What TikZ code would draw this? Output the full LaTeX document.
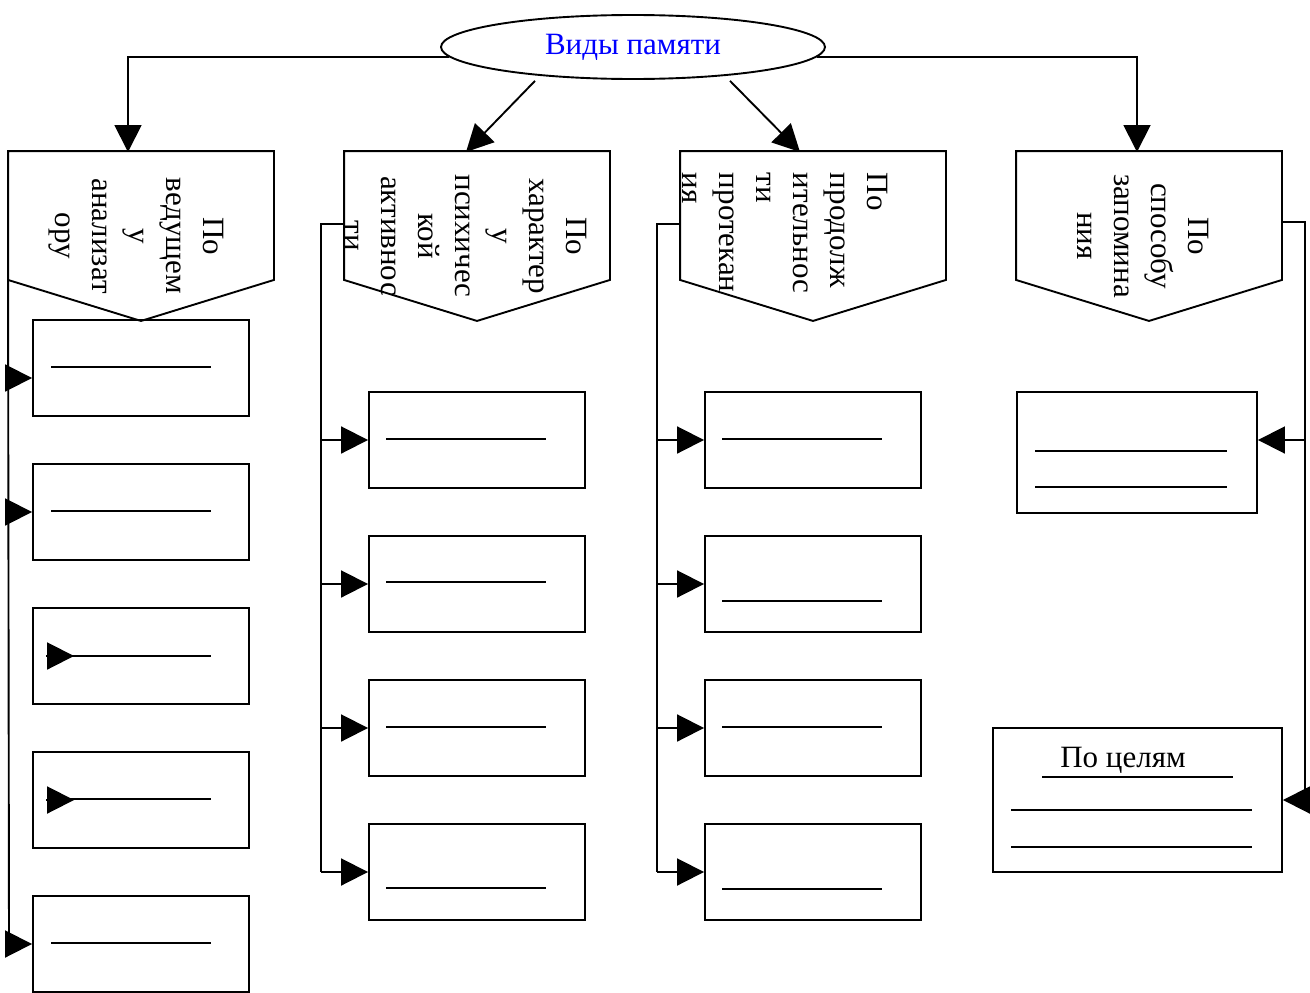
\documentclass[tikz,border=0pt]{standalone}
\usepackage{fontspec}
\setmainfont{Liberation Serif}
\usetikzlibrary{shapes.geometric,arrows.meta}

\begin{document}
\begin{tikzpicture}[x=1pt,y=-1pt,line width=1.9pt,
    arr/.style={-{Triangle[length=27pt,width=27pt]}},
    blank/.style={line width=1.3pt},
    every node/.style={font=\fontsize{31}{37}\selectfont}]

      \useasboundingbox (0,0) rectangle (1310,993);

      \node[ellipse,draw,minimum width=384pt,minimum height=64pt,inner sep=0pt,text=blue] (vidy) at (633,47) {Виды памяти};

      \begin{scope}[every node/.style={minimum width=264pt,minimum height=127pt,inner sep=0pt}]
        \node (k1) at (141,215.5) {};
        \node (k2) at (477,215.5) {};
        \node (k3) at (813,215.5) {};
        \node (k4) at (1149,215.5) {};
      \end{scope}

      \draw (k1.north west) -- (k1.north east) -- (k1.south east) -- ([yshift=-41pt]k1.south) -- (k1.south west) -- cycle;
      \draw (k2.north west) -- (k2.north east) -- (k2.south east) -- ([yshift=-41pt]k2.south) -- (k2.south west) -- cycle;
      \draw (k3.north west) -- (k3.north east) -- (k3.south east) -- ([yshift=-41pt]k3.south) -- (k3.south west) -- cycle;
      \draw (k4.north west) -- (k4.north east) -- (k4.south east) -- ([yshift=-41pt]k4.south) -- (k4.south west) -- cycle;

      \node[rotate=-90,align=center] (t1) at (136,236) {По\\ведущем\\у\\анализат\\ору};
      \node[rotate=-90,align=center] (t2) at (466,236) {По\\характер\\у\\психичес\\кой\\активнос\\ти};
      \node[rotate=-90,align=left] (t3) at (785,233) {По\\продолж\\ительнос\\ти\\протекан\\ия};
      \node[rotate=-90,align=center] (t4) at (1143,236) {По\\способу\\запомина\\ния};

      \begin{scope}[every node/.style={draw,minimum width=216pt,minimum height=96pt,inner sep=0pt}]
        \node (b11) at (141,368) {};
        \node (b12) at (141,512) {};
        \node (b13) at (141,656) {};
        \node (b14) at (141,800) {};
        \node (b15) at (141,944) {};
        \node (b21) at (477,440) {};
        \node (b22) at (477,584) {};
        \node (b23) at (477,728) {};
        \node (b24) at (477,872) {};
        \node (b31) at (813,440) {};
        \node (b32) at (813,584) {};
        \node (b33) at (813,728) {};
        \node (b34) at (813,872) {};
      \end{scope}
      \node[draw,minimum width=240pt,minimum height=121pt,inner sep=0pt] (b41) at (1137,452.5) {};
      \node[draw,minimum width=289pt,minimum height=144pt,inner sep=0pt] (b42) at (1137.5,800) {};
      \node[anchor=base] (cel) at (1123,767) {По целям};

      % blank lines
      \draw[blank] ([shift={(19,-1)}]b11.west) -- ++(160,0);
      \draw[blank] ([shift={(19,-1)}]b12.west) -- ++(160,0);
      \draw[blank] ([shift={(19,0)}]b13.west) -- ++(160,0);
      \draw[blank] ([shift={(19,-1)}]b14.west) -- ++(160,0);
      \draw[blank] ([shift={(19,-1)}]b15.west) -- ++(160,0);
      \draw[blank] ([shift={(18,-1)}]b21.west) -- ++(160,0);
      \draw[blank] ([shift={(18,-2)}]b22.west) -- ++(160,0);
      \draw[blank] ([shift={(18,-1)}]b23.west) -- ++(160,0);
      \draw[blank] ([shift={(18,16)}]b24.west) -- ++(160,0);
      \draw[blank] ([shift={(18,-1)}]b31.west) -- ++(160,0);
      \draw[blank] ([shift={(18,17)}]b32.west) -- ++(160,0);
      \draw[blank] ([shift={(18,-1)}]b33.west) -- ++(160,0);
      \draw[blank] ([shift={(18,17)}]b34.west) -- ++(160,0);
      \draw[blank] ([shift={(19,-1.5)}]b41.west) -- ++(192,0);
      \draw[blank] ([shift={(19,34.5)}]b41.west) -- ++(192,0);
      \draw[blank] (1042,777) -- (1233,777);
      \draw[blank] ([shift={(19,10)}]b42.west) -- ++(241,0);
      \draw[blank] ([shift={(19,47)}]b42.west) -- ++(241,0);

      \draw[arr] ([xshift=14pt]b13.west) -- ([xshift=42pt]b13.west);
      \draw[arr] ([xshift=14pt]b14.west) -- ([xshift=42pt]b14.west);

      % from the ellipse
      \coordinate (a1) at (128,152);
      \coordinate (a2) at (466,152);
      \coordinate (a3) at (800,152);
      \coordinate (a4) at (1137,152);
      \draw[arr] (vidy.183) -| (a1);
      \draw[arr] (vidy.-3) -| (a4);
      \draw[arr] ([xshift=-16pt,yshift=-4pt]vidy.200) -- (a2);
      \draw[arr] ([xshift=15pt,yshift=-4pt]vidy.-20) -- (a3);

      % buses
      \coordinate (l1) at (9,378);
      \coordinate (l2) at (9,512);
      \coordinate (l5) at (9,944);
      \coordinate (m0) at (321,224);
      \coordinate (m1) at (321,440);
      \coordinate (m2) at (321,584);
      \coordinate (m3) at (321,728);
      \coordinate (m4) at (321,872);
      \coordinate (n0) at (657,224);
      \coordinate (n1) at (657,440);
      \coordinate (n2) at (657,584);
      \coordinate (n3) at (657,728);
      \coordinate (n4) at (657,872);
      \coordinate (r0) at (1305,222);
      \coordinate (r1) at (1305,440);
      \coordinate (r2) at (1305,800);

      \draw (k1.south west) -- (l5);
      \draw (k2.west |- m0) -- (m0) -- (m4);
      \draw (k3.west |- n0) -- (n0) -- (n4);
      \draw (k4.east |- r0) -- (r0) -- (r2);

      \begin{scope}[every edge/.style={draw,arr}]
        \path (l1) edge (b11.west |- l1);
        \path (l2) edge (b12.west);
        \path (l5) edge (b15.west);
        \path (m1) edge (b21.west);
        \path (m2) edge (b22.west);
        \path (m3) edge (b23.west);
        \path (m4) edge (b24.west);
        \path (n1) edge (b31.west);
        \path (n2) edge (b32.west);
        \path (n3) edge (b33.west);
        \path (n4) edge (b34.west);
        \path (r1) edge (b41.east |- r1);
        \path (r2) edge (b42.east);
      \end{scope}

    \end{tikzpicture}
\end{document}
